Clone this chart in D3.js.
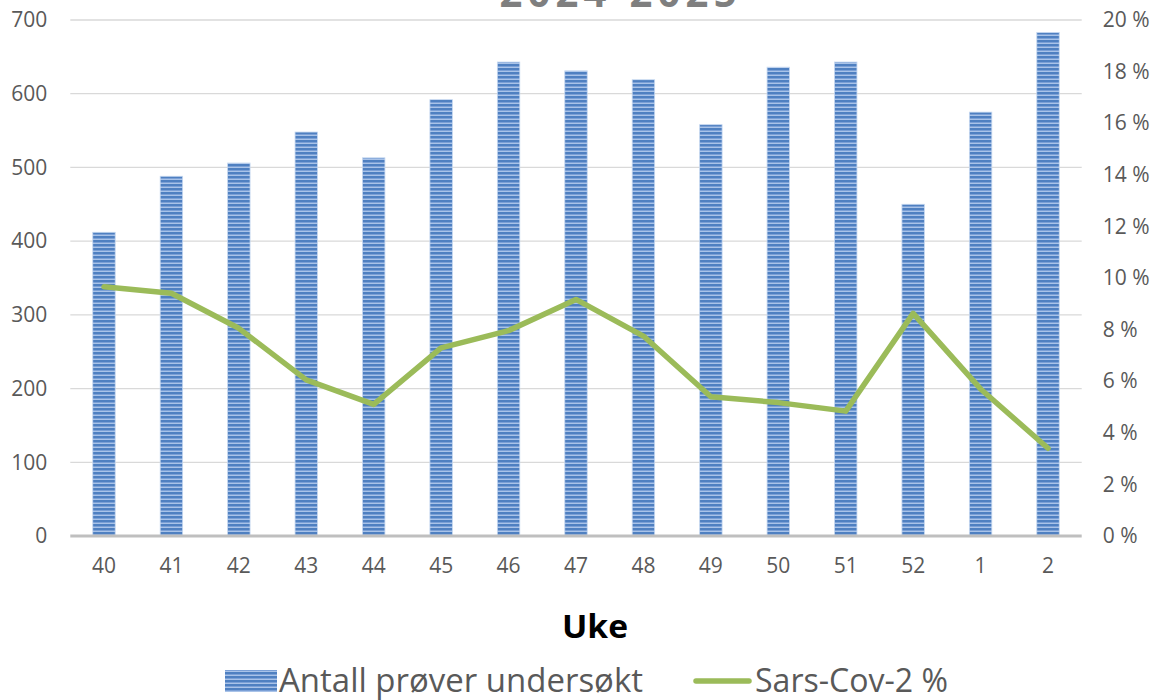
<!DOCTYPE html>
<html><head><meta charset="utf-8">
<script src="https://cdn.jsdelivr.net/npm/d3@7"></script>
<style>body{margin:0;background:#fff;} svg{display:block;}</style>
</head><body>
<svg id="c" width="1157" height="700"></svg>
<script>
const weeks = ["40","41","42","43","44","45","46","47","48","49","50","51","52","1","2"];
const samples = [412, 488, 506, 548, 513, 592, 643, 631, 619, 558, 636, 643, 450, 575, 683];
const sarsPct = [9.66, 9.41, 8.05, 6.05, 5.10, 7.29, 7.96, 9.17, 7.75, 5.40, 5.17, 4.84, 8.63, 5.70, 3.40];
const leftTicks = [0,100,200,300,400,500,600,700];
const rightTicks = [0,2,4,6,8,10,12,14,16,18,20];
const titleText = "2024-2025";
const xTitle = "Uke";
const legendLabels = ["Antall prøver undersøkt", "Sars-Cov-2 %"];

const svg = d3.select("#c");
const font = "'Open Sans', sans-serif";
const L = 70.3, R = 1081.7, T = 20, B = 536;

const defs = svg.append("defs");
const pat = defs.append("pattern").attr("id","stripes").attr("patternUnits","userSpaceOnUse")
  .attr("width",8).attr("height",4);
pat.append("rect").attr("width",8).attr("height",4).attr("fill","#a9c3e8");
pat.append("rect").attr("y",0).attr("width",8).attr("height",2).attr("fill","#4f80c1");
pat.append("rect").attr("y",2).attr("width",8).attr("height",1).attr("fill","#7ba0d6");

const x = d3.scaleBand().domain(weeks).range([L,R]).paddingInner(0.667).paddingOuter(0.333);
const y = d3.scaleLinear().domain([0,700]).range([B,T]);
const y2 = d3.scaleLinear().domain([0,20]).range([B,T]);

// gridlines
svg.append("g").selectAll("line").data(leftTicks.filter(d=>d>0)).join("line")
  .attr("x1",L).attr("x2",R).attr("y1",d=>y(d)).attr("y2",d=>y(d))
  .attr("stroke","#d9d9d9").attr("stroke-width",1.3);

// left axis
const la = svg.append("g").attr("transform",`translate(${L},0)`)
  .call(d3.axisLeft(y).tickValues(leftTicks).tickSize(0).tickPadding(23));
la.select(".domain").remove();
la.selectAll("text").attr("font-family",font).attr("font-size",21).attr("fill","#595959");

// right axis
const ra = svg.append("g").attr("transform",`translate(${R},0)`)
  .call(d3.axisRight(y2).tickValues(rightTicks).tickSize(0).tickPadding(21).tickFormat(d=>d+" %"));
ra.select(".domain").remove();
ra.selectAll("text").attr("font-family",font).attr("font-size",21).attr("fill","#595959");

// bars
svg.append("g").selectAll("rect").data(weeks).join("rect")
  .attr("x",d=>x(d)).attr("width",x.bandwidth())
  .attr("y",(d,i)=>y(samples[i])).attr("height",(d,i)=>B-y(samples[i]))
  .attr("fill","url(#stripes)").attr("stroke","#c6d8f0").attr("stroke-width",0.8);

// baseline
svg.append("line").attr("x1",L).attr("x2",R).attr("y1",B).attr("y2",B)
  .attr("stroke","#bfbfbf").attr("stroke-width",3);

// x axis labels
const xa = svg.append("g").attr("transform",`translate(0,${B})`)
  .call(d3.axisBottom(x).tickSize(0).tickPadding(22));
xa.select(".domain").remove();
xa.selectAll("text").attr("font-family",font).attr("font-size",21).attr("fill","#595959");

// line
const line = d3.line().x((d,i)=>x(weeks[i])+x.bandwidth()/2).y(d=>y2(d));
svg.append("path").datum(sarsPct).attr("d",line).attr("fill","none")
  .attr("stroke","#9bbb59").attr("stroke-width",5.5).attr("stroke-linejoin","round").attr("stroke-linecap","round");

// title (cut off at top, as in the reference)
svg.append("text").attr("x",618).attr("y",7).attr("text-anchor","middle")
  .attr("font-family",font).attr("font-weight","bold").attr("font-size",40).attr("fill","#7f7f7f")
  .attr("textLength",237).attr("lengthAdjust","spacing").text(titleText);

// x title
svg.append("text").attr("x",595).attr("y",638).attr("text-anchor","middle")
  .attr("font-family",font).attr("font-weight","bold").attr("font-size",32).attr("fill","#000")
  .attr("textLength",66).attr("lengthAdjust","spacingAndGlyphs").text(xTitle);

// legend
const lg = svg.append("g");
lg.append("rect").attr("x",225).attr("y",670).attr("width",52).attr("height",22).attr("fill","url(#stripes)");
lg.append("text").attr("x",279).attr("y",692).attr("font-family",font).attr("font-size",32).attr("fill","#595959")
  .attr("textLength",364).attr("lengthAdjust","spacingAndGlyphs").text(legendLabels[0]);
lg.append("line").attr("x1",696).attr("x2",749).attr("y1",681).attr("y2",681)
  .attr("stroke","#9bbb59").attr("stroke-width",5.5).attr("stroke-linecap","round");
lg.append("text").attr("x",755).attr("y",692).attr("font-family",font).attr("font-size",32).attr("fill","#595959")
  .attr("textLength",193).attr("lengthAdjust","spacingAndGlyphs").text(legendLabels[1]);
</script>
</body></html>
